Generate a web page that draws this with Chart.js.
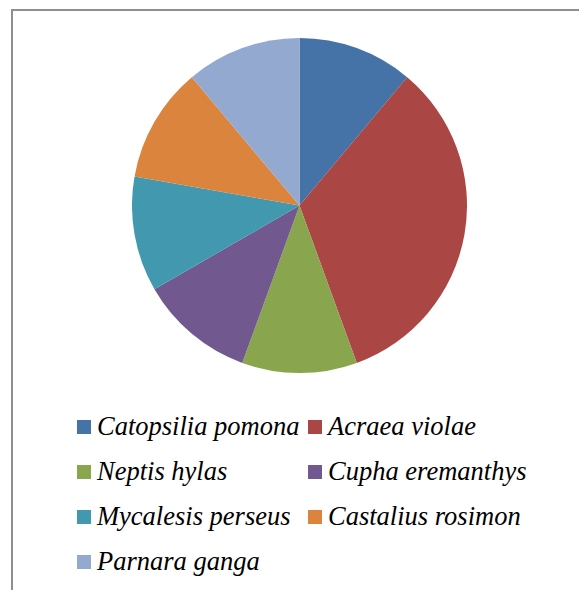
<!DOCTYPE html>
<html>
<head>
<meta charset="utf-8">
<script src="https://cdn.jsdelivr.net/npm/chart.js@4/dist/chart.umd.min.js"></script>
<style>
    body { margin: 0; background: #fff; }
    #frame { position: absolute; left: 11px; top: 9px; width: 600px; height: 620px;
             border-left: 2px solid #8e8e8e; border-top: 2px solid #8e8e8e; }
    #pie-box { position: absolute; left: 132px; top: 38px; width: 335px; height: 335px; }
    .item { position: absolute; height: 45px; line-height: 45px; padding-left: 20px;
            font-family: 'Liberation Serif', serif; font-style: italic; font-size: 26.5px;
            color: #000; white-space: nowrap; }
    .box { position: absolute; left: 0; top: 16px; width: 14px; height: 14px; }
</style>
</head>
<body>
<div id="frame"></div>
<div id="pie-box"><canvas id="pie"></canvas></div>
<div id="legend"></div>
<script>
// Species and their counts
const species = ['Catopsilia pomona', 'Acraea violae', 'Neptis hylas', 'Cupha eremanthys',
                 'Mycalesis perseus', 'Castalius rosimon', 'Parnara ganga'];
const counts = [1, 3, 1, 1, 1, 1, 1];

const colors = ['#4572a7', '#aa4643', '#89a54e', '#71588f', '#4198af', '#db843d', '#93a9cf'];

const chart = new Chart(document.getElementById('pie'), {
    type: 'pie',
    data: {
        labels: species,
        datasets: [{
            data: counts,
            backgroundColor: colors,
            borderWidth: 0
        }]
    },
    options: {
        responsive: true,
        maintainAspectRatio: false,
        animation: false,
        layout: { padding: 0 },
        plugins: {
            legend: { display: false },
            tooltip: { enabled: false }
        }
    }
});

// Two-column legend like the original
const legend = document.getElementById('legend');
species.forEach((name, i) => {
    const item = document.createElement('div');
    item.className = 'item';
    item.style.left = (77 + (i % 2) * 231) + 'px';
    item.style.top = (404 + Math.floor(i / 2) * 45) + 'px';
    const box = document.createElement('span');
    box.className = 'box';
    box.style.background = colors[i];
    item.appendChild(box);
    const text = document.createElement('span');
    text.textContent = name;
    item.appendChild(text);
    legend.appendChild(item);
});
</script>
</body>
</html>
